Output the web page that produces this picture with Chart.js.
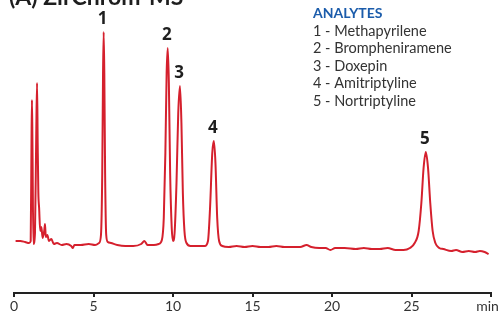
<!DOCTYPE html>
<html>
<head>
<meta charset="utf-8">
<script src="https://cdn.jsdelivr.net/npm/chart.js@4/dist/chart.umd.min.js"></script>
<style>
  body { margin: 0; background: #fff; }
  #wrap { width: 500px; height: 316px; }
</style>
</head>
<body>
<div id="wrap"><canvas id="myChart" width="500" height="316"></canvas></div>
<script>
// chromatogram trace (time in min, detector signal)
const timeMin = [
  0.10, 0.40, 0.70, 0.95, 1.05, 1.10, 1.13, 1.16, 1.22, 1.32, 1.40, 1.45, 1.49, 1.53, 1.58, 1.65,
  1.72, 1.80, 1.90, 1.95, 2.00, 2.10, 2.20, 2.35, 2.50, 2.70, 3.00, 3.30, 3.60, 3.70, 3.80, 4.20,
  4.70, 5.10, 5.35, 5.47, 5.55, 5.60, 5.64, 5.68, 5.73, 5.80, 5.90, 6.10, 6.50, 7.00, 7.50, 8.00,
  8.20, 8.40, 8.80, 9.10, 9.30, 9.42, 9.52, 9.60, 9.67, 9.74, 9.82, 9.92, 10.00, 10.10, 10.22, 10.33,
  10.44, 10.53, 10.62, 10.72, 10.85, 11.10, 11.60, 12.00, 12.20, 12.33, 12.47, 12.57, 12.67, 12.78, 12.90, 13.10,
  13.50, 14.00, 14.50, 15.00, 15.50, 16.00, 16.50, 17.00, 17.50, 18.00, 18.40, 18.70, 19.20, 19.60, 19.90, 20.20,
  20.80, 21.50, 22.00, 22.50, 23.00, 23.50, 24.00, 24.50, 24.90, 25.20, 25.45, 25.62, 25.76, 25.90, 26.04, 26.18,
  26.33, 26.50, 26.75, 27.00, 27.50, 27.80, 28.20, 28.60, 29.00, 29.30, 29.60, 29.85
];
const signal = [
  52, 52, 51, 50, 52, 150, 193, 150, 49, 60, 160, 210, 150, 101, 85, 62,
  66, 55, 62, 69, 56, 58, 52, 54, 49, 50, 48, 49, 47, 45, 48, 48,
  49, 48, 50, 58, 120, 220, 261, 220, 120, 58, 51, 50, 48, 47, 47, 49,
  52, 48, 48, 49, 53, 75, 140, 220, 245, 210, 120, 65, 52, 60, 110, 180,
  207, 170, 100, 62, 50, 47, 47, 47, 52, 85, 140, 152, 130, 75, 52, 47,
  46, 47, 46, 47, 46, 46, 47, 46, 46, 46, 48, 46, 45, 45, 43, 45,
  45, 44, 45, 44, 44, 45, 43, 43, 45, 50, 62, 90, 125, 141, 125, 90,
  62, 50, 45, 44, 42, 43, 41, 42, 41, 42, 41, 39
];

// peak labels
const peakTimes = [5.64, 9.67, 10.44, 12.57, 25.90];
const peakLabels = ['1', '2', '3', '4', '5'];

// legend
const legendTitle = 'ANALYTES';
const analytes = [
  '1 - Methapyrilene',
  '2 - Brompheniramene',
  '3 - Doxepin',
  '4 - Amitriptyline',
  '5 - Nortriptyline'
];

const chartTitle = '(A) ZirChrom-MS';

const points = timeMin.map((t, i) => ({ x: t, y: signal[i] }));

const annotate = {
  id: 'annotate',
  afterDatasetsDraw(chart) {
    const ctx = chart.ctx;
    const xs = chart.scales.x, ys = chart.scales.y;
    ctx.save();
    // peak numbers
    ctx.fillStyle = '#1e1e1e';
    ctx.font = 'bold 17px "Open Sans"';
    ctx.textAlign = 'center';
    ctx.textBaseline = 'alphabetic';
    peakTimes.forEach((t, i) => {
      const idx = timeMin.indexOf(t);
      const px = xs.getPixelForValue(t);
      const py = ys.getPixelForValue(signal[idx]);
      ctx.fillText(peakLabels[i], px - 1, py - 8);
    });
    // title, top half cut off by the canvas edge
    ctx.textAlign = 'left';
    ctx.font = 'bold 23px Lato';
    ctx.fillStyle = '#1e1e1e';
    ctx.fillText(chartTitle, 9, 5);
    // legend
    ctx.fillStyle = '#1b5cab';
    ctx.font = 'bold 14px Lato';
    ctx.fillText(legendTitle, 313, 18);
    ctx.fillStyle = '#333';
    ctx.font = '14.5px Lato';
    analytes.forEach((a, i) => {
      ctx.fillText(a, 313, 36 + i * 17.4);
    });
    ctx.restore();
  }
};

const ctx = document.getElementById('myChart').getContext('2d');
const chart = new Chart(ctx, {
    type: 'line',
    data: {
        datasets: [{
            data: points,
            borderColor: '#d5202d',
            borderWidth: 2,
            pointRadius: 0,
            cubicInterpolationMode: 'monotone',
            fill: false
        }]
    },
    options: {
        responsive: false,
        animation: false,
        layout: { padding: { left: 14, right: 9, top: 0, bottom: 0 } },
        scales: {
            x: {
                type: 'linear',
                min: 0,
                max: 30,
                afterFit: s => { s.paddingLeft = 0; s.paddingRight = 0; s.height = 23; },
                border: { color: '#222', width: 2 },
                grid: { display: true, drawOnChartArea: false, color: '#222', tickLength: 4, lineWidth: 2 },
                ticks: {
                    stepSize: 5,
                    color: '#333',
                    padding: 1,
                    maxRotation: 0,
                    font: { family: 'Lato', size: 14 },
                    callback: v => v === 30 ? 'min\u2002' : v
                }
            },
            y: {
                display: false,
                min: 0,
                max: 293
            }
        },
        plugins: {
            legend: { display: false },
            tooltip: { enabled: false }
        }
    },
    plugins: [annotate]
});
</script>
</body>
</html>
